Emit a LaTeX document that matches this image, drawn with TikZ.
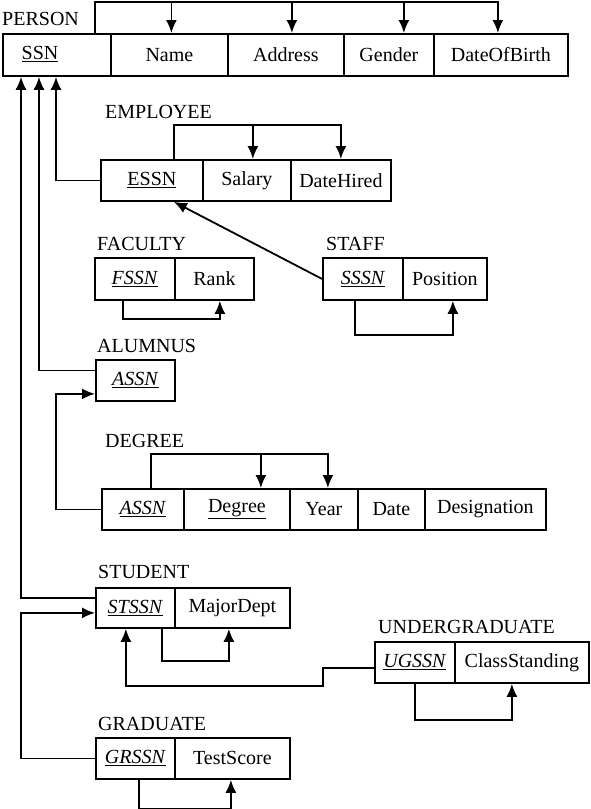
\documentclass[tikz,border=0pt]{standalone}
\usepackage{fontspec}
\setmainfont{Liberation Serif}
\usetikzlibrary{arrows.meta}
\tikzset{
  cell/.style={draw, line width=1.8pt, anchor=north west, inner sep=0pt, font=\fontsize{20}{24}\selectfont},
  tlabel/.style={anchor=base west, inner sep=0pt, font=\fontsize{20}{24}\selectfont},
  conn/.style={line width=1.8pt},
  arr/.style={line width=1.8pt, -{Latex[length=13pt,width=11pt]}}
}
\newcommand{\ukey}[1]{\underline{#1}}
\newcommand{\uikey}[1]{\underline{\textit{#1}}}
\begin{document}
\begin{tikzpicture}[x=1pt,y=-1pt]
\useasboundingbox (0,0) rectangle (590,809);
% PERSON
\node[tlabel] (lperson) at (2,25) {PERSON};
\node[cell, minimum width=108pt, minimum height=42pt] (ssn) at (2,33) {};
\node[inner sep=0pt, font=\fontsize{20}{24}\selectfont] (ssntext) at (40,54) {\ukey{SSN}};
\node[cell, minimum width=117pt, minimum height=42pt] (name) at (110,33) {Name};
\node[cell, minimum width=116pt, minimum height=42pt] (addr) at (227,33) {Address};
\node[cell, minimum width=90pt, minimum height=42pt] (gender) at (343,33) {Gender};
\node[cell, minimum width=134pt, minimum height=42pt] (dob) at (433,33) {DateOfBirth};
% EMPLOYEE
\node[tlabel] (lemp) at (105,118) {EMPLOYEE};
\node[cell, minimum width=102pt, minimum height=41pt] (essn) at (100,159) {\ukey{ESSN}};
\node[cell, minimum width=88pt, minimum height=41pt] (salary) at (202,159) {Salary};
\node[cell, minimum width=100pt, minimum height=41pt] (hired) at (290,159) {DateHired};
% FACULTY
\node[tlabel] (lfac) at (97,250) {FACULTY};
\node[cell, minimum width=80pt, minimum height=42pt] (fssn) at (94,257) {\uikey{FSSN}};
\node[cell, minimum width=79pt, minimum height=42pt] (rank) at (174,257) {Rank};
% STAFF
\node[tlabel] (lstaff) at (326,250) {STAFF};
\node[cell, minimum width=80pt, minimum height=42pt] (sssn) at (322,257) {\uikey{SSSN}};
\node[cell, minimum width=84pt, minimum height=42pt] (position) at (402,257) {Position};
% ALUMNUS
\node[tlabel] (lalum) at (97,352) {ALUMNUS};
\node[cell, minimum width=79pt, minimum height=41pt] (assn) at (95,359) {\uikey{ASSN}};
% DEGREE
\node[tlabel] (ldeg) at (105,447) {DEGREE};
\node[cell, minimum width=82pt, minimum height=41pt] (dassn) at (101,488) {\uikey{ASSN}};
\node[cell, minimum width=106pt, minimum height=41pt] (degree) at (183,488) {\ukey{Degree}};
\node[cell, minimum width=68pt, minimum height=41pt] (year) at (289,488) {Year};
\node[cell, minimum width=67pt, minimum height=41pt] (date) at (357,488) {Date};
\node[cell, minimum width=121pt, minimum height=41pt] (desig) at (424,488) {Designation};
% STUDENT
\node[tlabel] (lstud) at (98,578) {STUDENT};
\node[cell, minimum width=79pt, minimum height=40pt] (stssn) at (95,587) {\uikey{STSSN}};
\node[cell, minimum width=115pt, minimum height=40pt] (major) at (174,587) {MajorDept};
% UNDERGRADUATE
\node[tlabel] (lug) at (378,633) {UNDERGRADUATE};
\node[cell, minimum width=80pt, minimum height=41pt] (ugssn) at (374,641) {\uikey{UGSSN}};
\node[cell, minimum width=134pt, minimum height=41pt] (class) at (454,641) {ClassStanding};
% GRADUATE
\node[tlabel] (lgrad) at (98,730) {GRADUATE};
\node[cell, minimum width=79pt, minimum height=41pt] (grssn) at (95,737) {\uikey{GRSSN}};
\node[cell, minimum width=115pt, minimum height=41pt] (test) at (174,737) {TestScore};

% coordinates
\coordinate (pbar) at (0,2);
\coordinate (ebar) at (0,125);
\coordinate (dbar) at (0,454);
\coordinate (gl) at (21,0);

% PERSON bracket
\draw[arr] ([xshift=93pt]ssn.north west) -- ([xshift=93pt]ssn.north west |- pbar) -| ([xshift=-3pt]dob.north);
\draw[arr] ([xshift=2pt]name.north |- pbar) -- ([xshift=2pt]name.north);
\draw[arr] ([xshift=6pt]addr.north |- pbar) -- ([xshift=6pt]addr.north);
\draw[arr] ([xshift=15pt]gender.north |- pbar) -- ([xshift=15pt]gender.north);

% to SSN
\draw[arr] (essn.west) -| ([xshift=54pt]ssn.south west);
\draw[arr] ([yshift=10pt]assn.west) -| ([xshift=37pt]ssn.south west);
\draw[arr] ([yshift=10pt]stssn.west) -| ([xshift=19pt]ssn.south west);

% EMPLOYEE bracket
\draw[arr] ([xshift=22pt]essn.north) -- ([xshift=22pt]essn.north |- ebar) -| (hired.north);
\draw[arr] ([xshift=6pt]salary.north |- ebar) -- ([xshift=6pt]salary.north);

% STAFF -> ESSN
\draw[arr] (sssn.west) -- ([xshift=22pt]essn.south);

% FACULTY, STAFF
\draw[arr] ([xshift=-12pt]fssn.south) -- ++(0,18) -| ([xshift=5.5pt]rank.south);
\draw[arr] ([xshift=-8pt]sssn.south) -- ++(0,34) -| ([xshift=8pt]position.south);

% DEGREE -> ALUMNUS
\draw[arr] (dassn.west) -- ++(-45,0) |- ([yshift=-13.5pt]assn.west);
% DEGREE bracket
\draw[arr] ([xshift=8pt]dassn.north) -- ([xshift=8pt]dassn.north |- dbar) -| ([xshift=4pt]year.north);
\draw[arr] ([xshift=24pt]degree.north |- dbar) -- ([xshift=24pt]degree.north);

% STUDENT
\draw[arr] ([xshift=26.5pt]stssn.south) -- ++(0,32) -| ([xshift=-3.5pt]major.south);
% UNDERGRADUATE -> STUDENT
\draw[arr] ([yshift=-5.5pt]ugssn.west) -- ++(-51,0) -- ++(0,18) -| ([xshift=-9.5pt]stssn.south);
\draw[arr] (ugssn.south) -- ++(0,36) -| ([xshift=-10pt]class.south);
% GRADUATE -> STUDENT
\draw[arr] (grssn.west) -- (grssn.west -| gl) |- ([yshift=-5pt]stssn.west);
\draw[arr] ([xshift=3.5pt]grssn.south) -- ++(0,29) -| ([xshift=-1.5pt]test.south);
\end{tikzpicture}
\end{document}
